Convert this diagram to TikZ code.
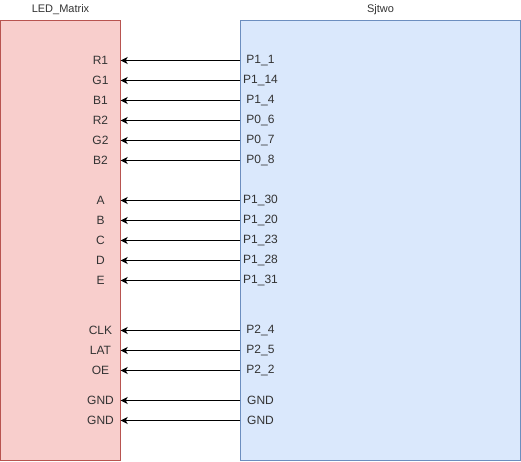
\documentclass[tikz,border=0pt]{standalone}
\usepackage{fontspec}
\setmainfont{Liberation Sans}
\usetikzlibrary{arrows.meta}
\definecolor{redfill}{HTML}{F8CECC}
\definecolor{redline}{HTML}{B85450}
\definecolor{bluefill}{HTML}{DAE8FC}
\definecolor{blueline}{HTML}{6C8EBF}
\definecolor{txt}{HTML}{333333}
\tikzset{
  ledbox/.style={draw=redline, fill=redfill, line width=1pt},
  sjbox/.style={draw=blueline, fill=bluefill, line width=1pt},
  pinlbl/.style={inner sep=0pt, minimum width=40pt, minimum height=14pt, text=txt, font=\fontsize{12}{14}\selectfont, anchor=center},
  titlelbl/.style={inner sep=0pt, text=txt, font=\fontsize{11}{13}\selectfont},
  wire/.style={line width=1pt, -{Stealth[length=7pt,width=7pt,inset=2pt]}}
}
\begin{document}
\begin{tikzpicture}[x=1pt,y=-1pt]
\useasboundingbox (0,0) rectangle (521,461);
\draw[ledbox] (0.5,20.5) rectangle (120.5,460.5);
\draw[sjbox] (240.5,20.5) rectangle (520.5,460.5);
\node[titlelbl] (tl) at (60.5,10) {LED\_Matrix};
\node[titlelbl] (tr) at (380.5,10) {Sjtwo};
\foreach \n/\l/\r/\y in {a/R1/P1\_1/60, b/G1/P1\_14/80, c/B1/P1\_4/100, d/R2/P0\_6/120, e/G2/P0\_7/140, f/B2/P0\_8/160,
  g/A/P1\_30/200, h/B/P1\_20/220, i/C/P1\_23/240, j/D/P1\_28/260, k/E/P1\_31/280,
  l/CLK/P2\_4/330, m/LAT/P2\_5/350, n/OE/P2\_2/370, o/GND/GND/400, p/GND/GND/420}{
  \node[pinlbl] (L\n) at (100.5,\y.5) {\l};
  \node[pinlbl] (R\n) at (260.5,\y.5) {\r};
  \draw[wire] (R\n.west) -- (L\n.east);
}
\end{tikzpicture}
\end{document}
